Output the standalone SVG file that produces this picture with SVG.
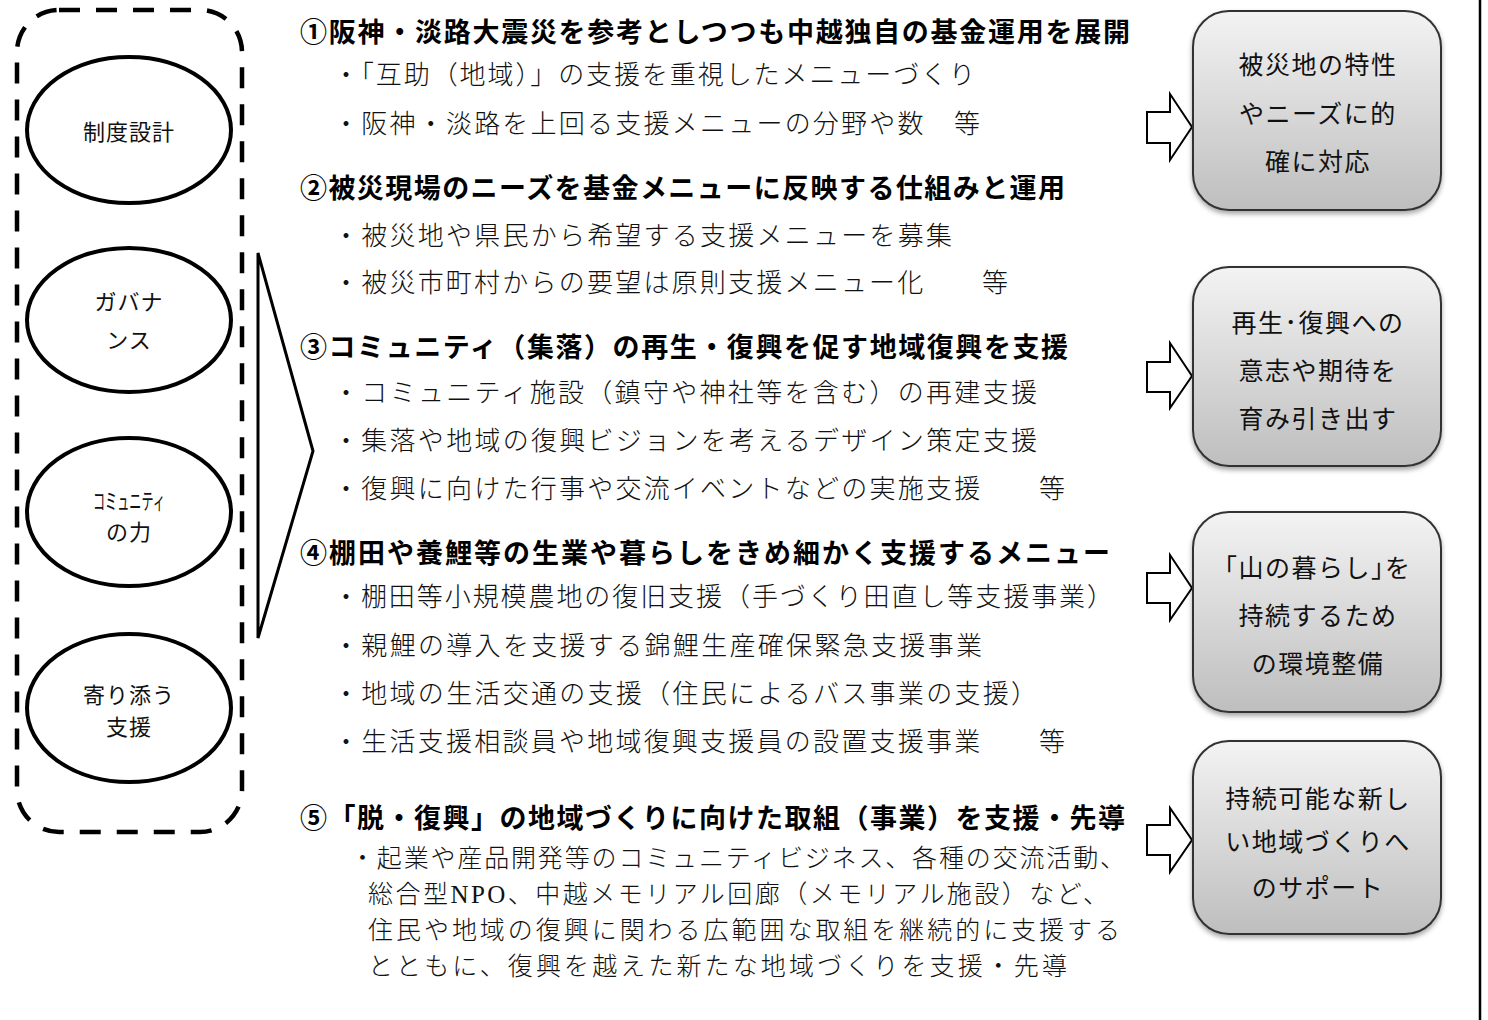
<svg xmlns="http://www.w3.org/2000/svg" width="1488" height="1020" viewBox="0 0 1488 1020">
<defs>
<linearGradient id="boxg" x1="0" y1="0" x2="0" y2="1">
<stop offset="0" stop-color="#f3f3f3"/>
<stop offset="1" stop-color="#bebebe"/>
</linearGradient>
<filter id="shadow" x="-10%" y="-10%" width="120%" height="125%">
<feDropShadow dx="0" dy="3" stdDeviation="2.5" flood-color="#000" flood-opacity="0.35"/>
</filter>
</defs>
<style>
.ell{fill:#fff;stroke:#000;stroke-width:4}
.et{font-family:"Noto Sans CJK JP",sans-serif;font-size:22px;fill:#111;text-anchor:middle;dominant-baseline:central}
.hd{font-family:"Noto Sans CJK JP",sans-serif;font-weight:bold;font-size:27px;fill:#000;dominant-baseline:central}
.bd{font-family:"Liberation Serif","Noto Sans CJK JP",serif;font-weight:300;font-size:26px;fill:#111;dominant-baseline:central}
.bs{font-size:25px}
.box{fill:url(#boxg);stroke:#333;stroke-width:2;filter:url(#shadow)}
.bt{font-family:"Noto Sans CJK JP",sans-serif;font-size:25px;fill:#111;text-anchor:middle;dominant-baseline:central;letter-spacing:1.5px}
.arr{fill:#fff;stroke:#000;stroke-width:2;stroke-linejoin:miter}
</style>
<rect width="1488" height="1020" fill="#fff"/>
<line x1="1480" y1="0" x2="1480" y2="1020" stroke="#000" stroke-width="2.5"/>

<g id="frame">
<rect x="17" y="10" width="225" height="822" rx="42" ry="42" fill="none" stroke="#000" stroke-width="4.5" stroke-dasharray="21 16"/>
</g>

<g id="node-seido">
<ellipse class="ell" cx="129" cy="130" rx="102" ry="73"/>
<text class="et" x="129" y="130" letter-spacing="1">制度設計</text>
</g>
<g id="node-governance">
<ellipse class="ell" cx="129" cy="320" rx="102" ry="72"/>
<text class="et" x="129" y="300" letter-spacing="1">ガバナ</text>
<text class="et" x="129" y="338" letter-spacing="1">ンス</text>
</g>
<g id="node-community">
<ellipse class="ell" cx="129" cy="512" rx="102" ry="74"/>
<text class="et" x="129" y="499" font-size="16" textLength="72" lengthAdjust="spacingAndGlyphs">コミュニティ</text>
<text class="et" x="129" y="530" letter-spacing="1">の力</text>
</g>
<g id="node-yorisou">
<ellipse class="ell" cx="129" cy="708" rx="102" ry="74"/>
<text class="et" x="129" y="693" letter-spacing="1">寄り添う</text>
<text class="et" x="129" y="725" letter-spacing="1">支援</text>
</g>

<g id="chevron">
<polygon points="258,253 313,451 258,638" fill="#fff" stroke="#000" stroke-width="3" stroke-linejoin="miter"/>
</g>

<g id="item1">
<text class="hd" x="300" y="30" textLength="830" lengthAdjust="spacing">①阪神・淡路大震災を参考としつつも中越独自の基金運用を展開</text>
<text class="bd" x="333" y="75" textLength="642" lengthAdjust="spacing">・「互助（地域）」の支援を重視したメニューづくり</text>
<text class="bd" x="333" y="124" textLength="647" lengthAdjust="spacing">・阪神・淡路を上回る支援メニューの分野や数　等</text>
</g>
<g id="item2">
<text class="hd" x="300" y="186" textLength="765" lengthAdjust="spacing">②被災現場のニーズを基金メニューに反映する仕組みと運用</text>
<text class="bd" x="333" y="236" textLength="619" lengthAdjust="spacing">・被災地や県民から希望する支援メニューを募集</text>
<text class="bd" x="333" y="283" textLength="675" lengthAdjust="spacing">・被災市町村からの要望は原則支援メニュー化　　等</text>
</g>
<g id="item3">
<text class="hd" x="300" y="345" textLength="768" lengthAdjust="spacing">③コミュニティ（集落）の再生・復興を促す地域復興を支援</text>
<text class="bd" x="333" y="393" textLength="704" lengthAdjust="spacing">・コミュニティ施設（鎮守や神社等を含む）の再建支援</text>
<text class="bd" x="333" y="441" textLength="704" lengthAdjust="spacing">・集落や地域の復興ビジョンを考えるデザイン策定支援</text>
<text class="bd" x="333" y="489" textLength="732" lengthAdjust="spacing">・復興に向けた行事や交流イベントなどの実施支援　　等</text>
</g>
<g id="item4">
<text class="hd" x="300" y="551" textLength="810" lengthAdjust="spacing">④棚田や養鯉等の生業や暮らしをきめ細かく支援するメニュー</text>
<text class="bd" x="333" y="597" textLength="780" lengthAdjust="spacing">・棚田等小規模農地の復旧支援（手づくり田直し等支援事業）</text>
<text class="bd" x="333" y="646" textLength="649" lengthAdjust="spacing">・親鯉の導入を支援する錦鯉生産確保緊急支援事業</text>
<text class="bd" x="333" y="694" textLength="704" lengthAdjust="spacing">・地域の生活交通の支援（住民によるバス事業の支援）</text>
<text class="bd" x="333" y="742" textLength="732" lengthAdjust="spacing">・生活支援相談員や地域復興支援員の設置支援事業　　等</text>
</g>
<g id="item5">
<text class="hd" x="300" y="816" textLength="825" lengthAdjust="spacing">⑤「脱・復興」の地域づくりに向けた取組（事業）を支援・先導</text>
<text class="bd bs" x="350" y="858" textLength="775" lengthAdjust="spacing">・起業や産品開発等のコミュニティビジネス、各種の交流活動、</text>
<text class="bd bs" x="368" y="894" textLength="740" lengthAdjust="spacing">総合型NPO、中越メモリアル回廊（メモリアル施設）など、</text>
<text class="bd bs" x="368" y="930" textLength="752" lengthAdjust="spacing">住民や地域の復興に関わる広範囲な取組を継続的に支援する</text>
<text class="bd bs" x="368" y="966" textLength="699" lengthAdjust="spacing">とともに、復興を越えた新たな地域づくりを支援・先導</text>
</g>

<g id="connectors">
<polygon class="arr" points="1147,112 1170,112 1170,94 1192,127 1170,160 1170,143 1147,143"/>
<polygon class="arr" points="1147,362 1170,362 1170,343 1192,376 1170,408 1170,392 1147,392"/>
<polygon class="arr" points="1147,573 1170,573 1170,555 1192,588 1170,620 1170,603 1147,603"/>
<polygon class="arr" points="1147,825 1170,825 1170,808 1192,840 1170,872 1170,855 1147,855"/>
</g>

<g id="out1">
<rect class="box" x="1193" y="11" width="248" height="199" rx="36" ry="36"/>
<text class="bt" x="1318" y="63">被災地の特性</text>
<text class="bt" x="1318" y="112">やニーズに的</text>
<text class="bt" x="1318" y="160">確に対応</text>
</g>
<g id="out2">
<rect class="box" x="1193" y="267" width="248" height="199" rx="36" ry="36"/>
<text class="bt" x="1318" y="321">再生･復興への</text>
<text class="bt" x="1318" y="369">意志や期待を</text>
<text class="bt" x="1318" y="417">育み引き出す</text>
</g>
<g id="out3">
<rect class="box" x="1193" y="512" width="248" height="200" rx="36" ry="36"/>
<text class="bt" x="1318" y="566">｢山の暮らし｣を</text>
<text class="bt" x="1318" y="614">持続するため</text>
<text class="bt" x="1318" y="662">の環境整備</text>
</g>
<g id="out4">
<rect class="box" x="1193" y="741" width="248" height="193" rx="36" ry="36"/>
<text class="bt" x="1318" y="797">持続可能な新し</text>
<text class="bt" x="1318" y="840">い地域づくりへ</text>
<text class="bt" x="1318" y="886">のサポート</text>
</g>
</svg>
